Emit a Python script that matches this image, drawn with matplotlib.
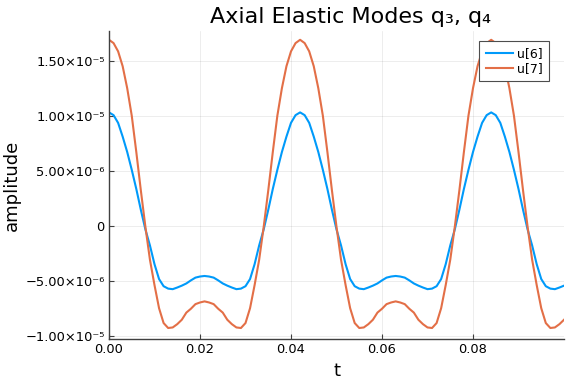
import matplotlib
matplotlib.use("Agg")
import matplotlib.pyplot as plt
import numpy as np

# sample times (s) and modal amplitudes (units of 1e-6)
t = np.round(np.arange(101) * 0.001, 3)

u6 = [10.30, 10.05, 9.35, 8.10, 6.70, 5.08, 3.34, 1.44, -0.34, -1.80, -3.50,
      -4.85, -5.50, -5.72, -5.77, -5.62, -5.45, -5.25, -4.97, -4.72, -4.62, -4.57,
      -4.62, -4.72, -4.97, -5.25, -5.45, -5.62, -5.77, -5.72, -5.50, -4.85,
      -3.50, -1.80, -0.34, 1.44, 3.34, 5.08, 6.70, 8.10, 9.35, 10.05,
      10.30,
      10.05, 9.35, 8.10, 6.70, 5.08, 3.34, 1.44, -0.34, -1.80, -3.50,
      -4.85, -5.50, -5.72, -5.77, -5.62, -5.45, -5.25, -4.97, -4.72, -4.62,
      -4.57,
      -4.62, -4.72, -4.97, -5.25, -5.45, -5.62, -5.77, -5.72, -5.50, -4.85,
      -3.50, -1.80, -0.34, 1.44, 3.34, 5.08, 6.70, 8.10, 9.35, 10.05,
      10.30,
      10.05, 9.35, 8.10, 6.70, 5.08, 3.34, 1.44, -0.34, -1.80, -3.50,
      -4.85, -5.50, -5.72, -5.77, -5.62, -5.45]

u7 = [16.90, 16.60, 15.85, 14.50, 12.50, 10.00, 6.70, 3.20, -0.10, -3.10, -5.40,
      -7.50, -8.85, -9.30, -9.25, -8.95, -8.55, -7.90, -7.55, -7.13, -6.98, -6.88,
      -6.98, -7.13, -7.55, -7.90, -8.55, -8.95, -9.25, -9.30, -8.85, -7.50,
      -5.40, -3.10, -0.10, 3.20, 6.70, 10.00, 12.50, 14.50, 15.85, 16.60,
      16.90,
      16.60, 15.85, 14.50, 12.50, 10.00, 6.70, 3.20, -0.10, -3.10, -5.40,
      -7.50, -8.85, -9.30, -9.25, -8.95, -8.55, -7.90, -7.55, -7.13, -6.98,
      -6.88,
      -6.98, -7.13, -7.55, -7.90, -8.55, -8.95, -9.25, -9.30, -8.85, -7.50,
      -5.40, -3.10, -0.10, 3.20, 6.70, 10.00, 12.50, 14.50, 15.85, 16.60,
      16.90,
      16.60, 15.85, 14.50, 12.50, 10.00, 6.70, 3.20, -0.10, -3.10, -5.40,
      -7.50, -8.85, -9.30, -9.25, -8.95, -8.55]

series_labels = ["u[6]", "u[7]"]
xtick_vals = [0.0, 0.02, 0.04, 0.06, 0.08]
xtick_labels = ["0.00", "0.02", "0.04", "0.06", "0.08"]
ytick_vals = [-1e-5, -5e-6, 0, 5e-6, 1e-5, 1.5e-5]
ytick_labels = ["\u22121.00\u00d710\u207b\u2075", "\u22125.00\u00d710\u207b\u2076", "0",
                "5.00\u00d710\u207b\u2076", "1.00\u00d710\u207b\u2075", "1.50\u00d710\u207b\u2075"]

fig = plt.figure(figsize=(5.76, 3.84), dpi=100)
ax = fig.add_axes([109/576, 1 - 339/384, 455/576, 308/384])

ax.plot(t, np.array(u6) * 1e-6, color="#009AFA", lw=1.5, label=series_labels[0])
ax.plot(t, np.array(u7) * 1e-6, color="#E36F47", lw=1.5, label=series_labels[1])

ax.set_xlim(0, 0.1)
ax.set_ylim(-10.3e-6, 17.7e-6)
ax.set_xticks(xtick_vals, xtick_labels)
ax.set_yticks(ytick_vals, ytick_labels)
ax.grid(True, color="black", alpha=0.1, lw=0.5)
ax.tick_params(direction="in", length=3.5, width=0.8, color="0.25", labelsize=9.4, pad=3)

for s in ("top", "right"):
    ax.spines[s].set_visible(False)
for s in ("left", "bottom"):
    ax.spines[s].set_color("0.25")
    ax.spines[s].set_linewidth(1.0)

ax.set_xlabel("t", fontsize=13)
ax.set_ylabel("amplitude", fontsize=13, va="center")
ax.yaxis.set_label_coords(-0.213, 0.5)
ax.set_title("Axial Elastic Modes q\u2083, q\u2084", fontsize=16, x=0.53)

leg = ax.legend(loc="upper right", bbox_to_anchor=(0.967, 0.9675), borderaxespad=0,
                fontsize=9, fancybox=False, framealpha=1, edgecolor="0.3",
                handlelength=2.2, borderpad=0.5, labelspacing=0.15, handletextpad=0.3)
leg.get_frame().set_linewidth(0.8)

fig.savefig("out.png", dpi=100)
